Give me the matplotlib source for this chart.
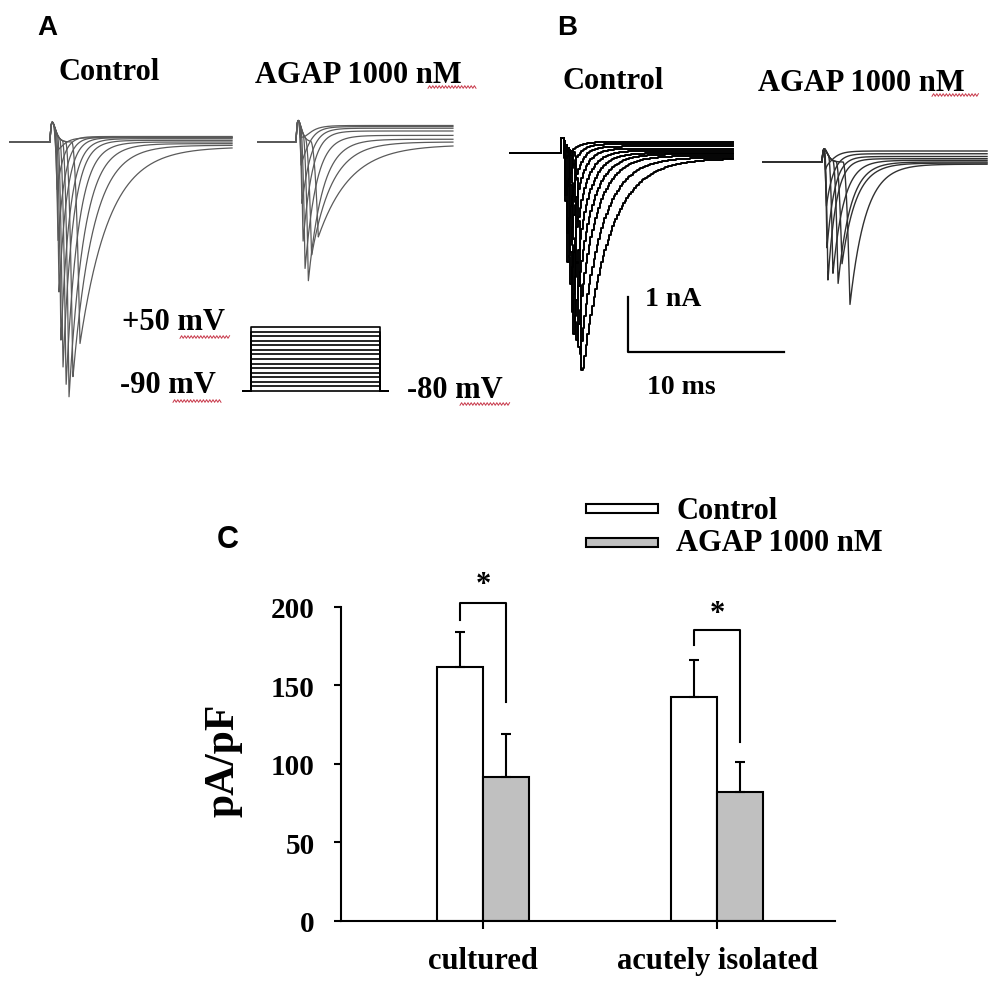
import numpy as np
import matplotlib
matplotlib.use('Agg')
import matplotlib.pyplot as plt
from matplotlib.patches import Rectangle
from matplotlib.lines import Line2D

# ---- figure geometry (pixels) ----
W, H = 1000, 987
PX_MS = 15.6      # pixels per ms (10 ms scale bar = 156 px)
PX_NA = 55.0      # pixels per nA (1 nA scale bar = 55 px)

# ---- panel A traces: onset, peak time (ms), peak amplitude (nA), decay tau (ms), steady offset (nA)
a_ctl_t0 = [1.40, 1.00, 0.80, 0.62, 0.48, 0.40, 0.32, 0.28, 0.24, 0.20]
a_ctl_tp = [1.92, 1.47, 1.22, 1.03, 0.83, 0.70, 0.58, 0.51, 0.45, 0.38]
a_ctl_amp = [3.62, 4.25, 4.62, 4.44, 4.16, 3.67, 2.85, 1.95, 1.04, 0.40]
a_ctl_tau = [1.85, 1.28, 0.96, 0.77, 0.64, 0.58, 0.51, 0.45, 0.40, 0.40]
a_ctl_off = [-0.09, -0.06, -0.03, 0.0, 0.03, 0.06, 0.08, 0.09, 0.10, 0.08]

a_agap_t0 = [0.95, 0.60, 0.45, 0.30, 0.22, 0.18, 0.15, 0.12]
a_agap_tp = [1.43, 1.00, 0.79, 0.58, 0.45, 0.38, 0.32, 0.28]
a_agap_amp = [1.70, 2.07, 2.58, 2.43, 2.04, 1.40, 0.76, 0.30]
a_agap_tau = [2.00, 1.30, 0.90, 0.70, 0.55, 0.50, 0.45, 0.40]
a_agap_off = [-0.05, 0.0, 0.05, 0.12, 0.20, 0.25, 0.28, 0.30]

# ---- panel B traces
b_ctl_t0 = [0.95, 0.80, 0.65, 0.55, 0.45, 0.35, 0.27, 0.23, 0.19, 0.16]
b_ctl_tp = [1.41, 1.22, 1.03, 0.90, 0.77, 0.64, 0.51, 0.45, 0.38, 0.32]
b_ctl_amp = [4.07, 3.84, 3.60, 3.29, 3.02, 2.65, 2.29, 1.75, 1.00, 0.38]
b_ctl_tau = [1.67, 1.35, 1.10, 0.95, 0.80, 0.70, 0.60, 0.50, 0.45, 0.40]
b_ctl_off = [-0.10, -0.08, -0.05, -0.02, 0.0, 0.04, 0.08, 0.12, 0.16, 0.20]

b_agap_t0 = [1.35, 0.90, 0.70, 0.42, 0.15, 0.12, 0.10, 0.08]
b_agap_tp = [1.79, 1.28, 1.03, 0.70, 0.38, 0.32, 0.28, 0.22]
b_agap_amp = [2.58, 1.85, 2.22, 2.07, 2.31, 1.76, 1.04, 0.40]
b_agap_tau = [1.00, 0.90, 0.80, 0.70, 0.50, 0.45, 0.40, 0.35]
b_agap_off = [-0.04, -0.02, 0.0, 0.03, 0.06, 0.10, 0.15, 0.20]

# capacitive transient height (nA) per recording
cap_amp = {'a_ctl': 0.36, 'a_agap': 0.39, 'b_ctl': 0.29, 'b_agap': 0.24}

# ---- voltage protocol (mV, ms)
prot_hold = -90
prot_levels = [-90, -80, -70, -60, -50, -40, -30, -20, -10, 0, 10, 20, 30, 40, 50]
prot_dur = 8.3
prot_pre = 0.5
prot_post = 0.5

# ---- panel C: current density (pA/pF)
groups = ['cultured', 'acutely isolated']
series = ['Control', 'AGAP 1000 nM']
colors = ['white', '#c0c0c0']
means_ctl = [161.9, 142.4]
errs_ctl = [22.4, 23.8]
means_agap = [91.8, 81.9]
errs_agap = [27.2, 19.1]
brk_top = [202.6, 185.5]
brk_left_end = [192.0, 176.0]
brk_right_end = [139.5, 114.0]
star_y = [209.7, 191.2]

plt.rcParams['font.family'] = 'Liberation Serif'
plt.rcParams['font.weight'] = 'bold'
plt.rcParams['axes.labelweight'] = 'bold'

fig = plt.figure(figsize=(W / 100, H / 100), dpi=100)


def px_axes(left, right, top, bottom):
    ax = fig.add_axes([left / W, 1 - bottom / H, (right - left) / W, (bottom - top) / H])
    ax.axis('off')
    return ax


def trace_axes(left, right, top, bottom, x0, base):
    ax = px_axes(left, right, top, bottom)
    ax.set_xlim((left - x0) / PX_MS, (right - x0) / PX_MS)
    ax.set_ylim(-(bottom - base) / PX_NA, (base - top) / PX_NA)
    return ax


def ftext(x, y, s, **kw):
    fig.text(x / W, 1 - y / H, s, **kw)


def squiggle(x0, x1, y):
    xs = np.arange(x0, x1, 1.6)
    ys = y + 1.3 * (-1.0) ** np.arange(len(xs))
    fig.add_artist(Line2D(xs / W, 1 - ys / H, color='#c8384a', lw=0.7))


def draw_traces(ax, t_start, t_end, t0s, tps, amps, taus, offs, cap,
                color, lw, dt=None):
    if dt:
        t = np.arange(t_start, t_end, dt)
    else:
        t = np.linspace(t_start, t_end, 2000)
    tc = np.clip(t, 0, None)
    transient = cap * (tc / 0.15) * np.exp(1 - tc / 0.15)
    for t0, tp, a, tau, off in zip(t0s, tps, amps, taus, offs):
        s = np.clip(t - t0, 0, None)
        u = np.clip(s / (tp - t0), 0, 1)
        decay = np.where(t > tp, np.exp(-(t - tp) / tau), 1.0)
        cur = -a * u ** 2 * decay + off * (1 - np.exp(-s / 0.6)) + transient
        ax.plot(t, cur, color=color, lw=lw,
                drawstyle='steps-mid' if dt else 'default')


# ---------------- panel A ----------------
ax_a1 = trace_axes(5, 240, 105, 410, 50, 143)
draw_traces(ax_a1, -2.56, 11.67, a_ctl_t0, a_ctl_tp, a_ctl_amp, a_ctl_tau,
            a_ctl_off, cap_amp['a_ctl'], '#5a5a5a', 0.9)

ax_a2 = trace_axes(250, 460, 105, 300, 296, 143)
draw_traces(ax_a2, -2.44, 10.06, a_agap_t0, a_agap_tp, a_agap_amp, a_agap_tau,
            a_agap_off, cap_amp['a_agap'], '#5a5a5a', 0.9)

# voltage protocol
PX_MV = 64 / 140
ax_p = px_axes(238, 395, 315, 400)
ax_p.set_xlim((238 - 251) / PX_MS, (395 - 251) / PX_MS)
ax_p.set_ylim(prot_hold - (400 - 392) / PX_MV, prot_hold + (392 - 315) / PX_MV)
for v in prot_levels:
    ax_p.plot([-prot_pre, 0, 0, prot_dur, prot_dur, prot_dur + prot_post],
              [prot_hold, prot_hold, v, v, prot_hold, prot_hold],
              color='black', lw=1.2)

# ---------------- panel B ----------------
ax_b1 = trace_axes(505, 800, 110, 400, 560, 154)
draw_traces(ax_b1, -3.2, 11.2, b_ctl_t0, b_ctl_tp, b_ctl_amp, b_ctl_tau,
            b_ctl_off, cap_amp['b_ctl'], 'black', 1.4, dt=0.1)
# scale bar: 10 ms x 1 nA
sb_t, sb_i = (628 - 560) / PX_MS, -(353 - 154) / PX_NA
ax_b1.plot([sb_t, sb_t, sb_t + 10], [sb_i + 1, sb_i, sb_i], color='black', lw=1.6)

ax_b2 = trace_axes(758, 995, 120, 330, 822, 163)
draw_traces(ax_b2, -3.78, 10.58, b_agap_t0, b_agap_tp, b_agap_amp, b_agap_tau,
            b_agap_off, cap_amp['b_agap'], '#303030', 1.0)

# ---------------- texts of A / B ----------------
sans = dict(family='Liberation Sans', weight='bold', fontsize=20, va='baseline')
ftext(37, 35, 'A', **sans)
ftext(557, 35, 'B', **sans)
ftext(217, 548, 'C', **dict(sans, fontsize=22))

ser = dict(fontsize=22, va='baseline', ha='left')
ftext(58, 80, 'Control', **ser)
ftext(255, 83, 'AGAP 1000 nM', **ser)
ftext(562, 89, 'Control', **ser)
ftext(758, 91, 'AGAP 1000 nM', **ser)
ftext(122, 330, '+50 mV', **ser)
ftext(120, 393, '-90 mV', **ser)
ftext(407, 398, '-80 mV', **ser)
ftext(645, 306, '1 nA', **dict(ser, fontsize=20))
ftext(647, 394, '10 ms', **dict(ser, fontsize=20))
squiggle(428, 477, 88)
squiggle(932, 980, 96)
squiggle(180, 230, 338)
squiggle(173, 222, 402)
squiggle(460, 510, 405)

# ---------------- panel C ----------------
ax = fig.add_axes([341 / W, 1 - 921.7 / H, 494 / W, 313.7 / H])
x = np.arange(len(groups))
bw = 0.197
ax.bar(x - bw, means_ctl, bw, align='edge', color=colors[0],
       edgecolor='black', lw=1.5)
ax.bar(x, means_agap, bw, align='edge', color=colors[1],
       edgecolor='black', lw=1.5)
ax.errorbar(x - bw / 2, means_ctl, yerr=[np.zeros(2), errs_ctl], fmt='none',
            ecolor='black', elinewidth=1.5, capsize=3.5, capthick=1.5)
ax.errorbar(x + bw / 2, means_agap, yerr=[np.zeros(2), errs_agap], fmt='none',
            ecolor='black', elinewidth=1.5, capsize=3.5, capthick=1.5)
for i in range(len(groups)):
    ax.plot([x[i] - bw / 2, x[i] - bw / 2, x[i] + bw / 2, x[i] + bw / 2],
            [brk_left_end[i], brk_top[i], brk_top[i], brk_right_end[i]],
            color='black', lw=1.5, clip_on=False)
    ax.text(x[i], star_y[i], '*', fontsize=22, ha='center', va='baseline')

ax.set_xlim(-0.607, 1.504)
ax.set_ylim(0, 200)
ax.set_yticks([0, 50, 100, 150, 200])
ax.set_xticks(x)
ax.set_xticklabels(groups)
for s in ['top', 'right']:
    ax.spines[s].set_visible(False)
for s in ['left', 'bottom']:
    ax.spines[s].set_linewidth(1.5)
ax.tick_params(axis='y', direction='out', length=5, width=1.5, pad=14, labelsize=21)
ax.tick_params(axis='x', direction='out', length=6, width=1.5, pad=12, labelsize=22)
ax.set_ylabel('pA/pF', fontsize=30, fontweight='bold')
ax.yaxis.set_label_coords(-0.2, 0.515)

# legend
for k, (lab, col) in enumerate(zip(series, colors)):
    y_top = 505 + 34 * k
    fig.add_artist(Rectangle((586 / W, 1 - (y_top + 9) / H), 72 / W, 9 / H,
                             transform=fig.transFigure, facecolor=col,
                             edgecolor='black', lw=1.5))
    ftext(676, 519 + 32 * k, lab, fontsize=22, va='baseline')

fig.savefig('out.png', dpi=100)
